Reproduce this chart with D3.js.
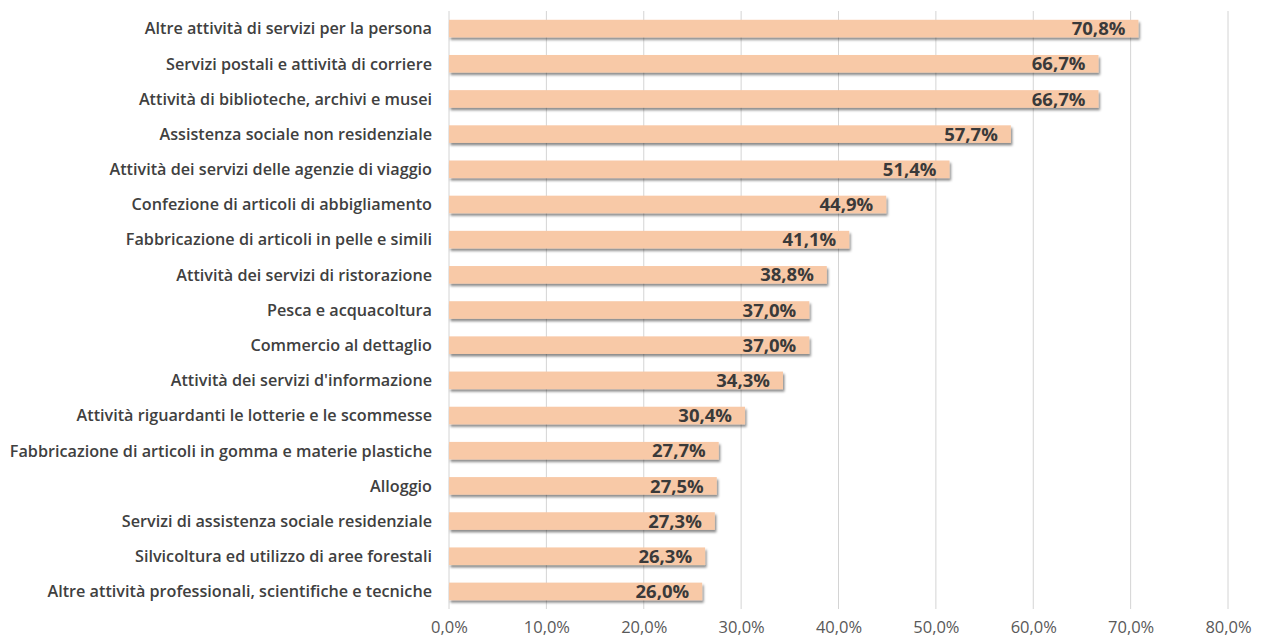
<!DOCTYPE html>
<html>
<head>
<meta charset="utf-8">
<script src="https://cdn.jsdelivr.net/npm/d3@7"></script>
<style>
  body { margin: 0; background: #fff; }
  svg { display: block; }
</style>
</head>
<body>
<svg id="chart"></svg>
<script>
const categories = [
    "Altre attività di servizi per la persona",
    "Servizi postali e attività di corriere",
    "Attività di biblioteche, archivi e musei ",
    "Assistenza sociale non residenziale",
    "Attività dei servizi delle agenzie di viaggio",
    "Confezione di articoli di abbigliamento",
    "Fabbricazione di articoli in pelle e simili",
    "Attività dei servizi di ristorazione",
    "Pesca e acquacoltura",
    "Commercio al dettaglio",
    "Attività dei servizi d'informazione",
    "Attività riguardanti le lotterie e le scommesse",
    "Fabbricazione di articoli in gomma e materie plastiche",
    "Alloggio",
    "Servizi di assistenza sociale residenziale",
    "Silvicoltura ed utilizzo di aree forestali",
    "Altre attività professionali, scientifiche e tecniche"
];
const values = [70.8, 66.7, 66.7, 57.7, 51.4, 44.9, 41.1, 38.8, 37.0, 37.0, 34.3, 30.4, 27.7, 27.5, 27.3, 26.3, 26.0];
const tickValues = [0, 10, 20, 30, 40, 50, 60, 70, 80];

const width = 1262, height = 641;
const fmt = v => v.toFixed(1).replace('.', ',') + '%';

const svg = d3.select('#chart')
    .attr('width', width)
    .attr('height', height);

// drop shadow for bars
const defs = svg.append('defs');
const filter = defs.append('filter').attr('id', 'shadow')
    .attr('x', '-5%').attr('y', '-30%').attr('width', '110%').attr('height', '180%');
filter.append('feDropShadow')
    .attr('dx', 1.5).attr('dy', 2.5).attr('stdDeviation', 1.2)
    .attr('flood-color', '#000').attr('flood-opacity', 0.45);

const x = d3.scaleLinear().domain([0, 80]).range([449, 1228]);
const y = d3.scaleBand().domain(categories).range([11, 609]).paddingInner(0.5).paddingOuter(0.25);

// gridlines
svg.append('g')
    .selectAll('line')
    .data(tickValues.slice(1))
    .enter().append('line')
    .attr('x1', d => x(d)).attr('x2', d => x(d))
    .attr('y1', 11).attr('y2', 609)
    .attr('stroke', '#d4d4d4')
    .attr('stroke-width', 1);

// axis line at 0
svg.append('line')
    .attr('x1', x(0)).attr('x2', x(0))
    .attr('y1', 11).attr('y2', 609)
    .attr('stroke', '#d4d4d4');

// x axis labels
const xAxis = d3.axisBottom(x).tickValues(tickValues).tickFormat(fmt).tickSize(0).tickPadding(0);
const gx = svg.append('g').attr('transform', 'translate(0,621)').call(xAxis);
gx.select('.domain').remove();
gx.selectAll('text')
    .attr('fill', '#595959')
    .style('font-family', '"Open Sans", sans-serif')
    .style('font-size', '16.5px');

// bars
svg.append('g')
    .selectAll('rect')
    .data(values)
    .enter().append('rect')
    .attr('x', x(0))
    .attr('y', (d, i) => y(categories[i]))
    .attr('width', d => x(d) - x(0))
    .attr('height', y.bandwidth())
    .attr('fill', '#f8c9a7')
    .attr('filter', 'url(#shadow)');

// value labels
svg.append('g')
    .selectAll('text')
    .data(values)
    .enter().append('text')
    .attr('x', d => x(d) - 13)
    .attr('y', (d, i) => y(categories[i]) + y.bandwidth() / 2)
    .attr('dy', '0.36em')
    .attr('text-anchor', 'end')
    .attr('fill', '#3a3a3a')
    .style('font-family', '"Open Sans", sans-serif')
    .style('font-weight', '700')
    .style('font-size', '18.5px')
    .text(fmt);

// category labels
svg.append('g')
    .selectAll('text')
    .data(categories)
    .enter().append('text')
    .attr('x', 432)
    .attr('y', d => y(d) + y.bandwidth() / 2)
    .attr('dy', '0.36em')
    .attr('text-anchor', 'end')
    .attr('fill', '#404040')
    .style('font-family', '"Open Sans", sans-serif')
    .style('font-weight', '600')
    .style('font-size', '16.2px')
    .text(d => d);
</script>
</body>
</html>
